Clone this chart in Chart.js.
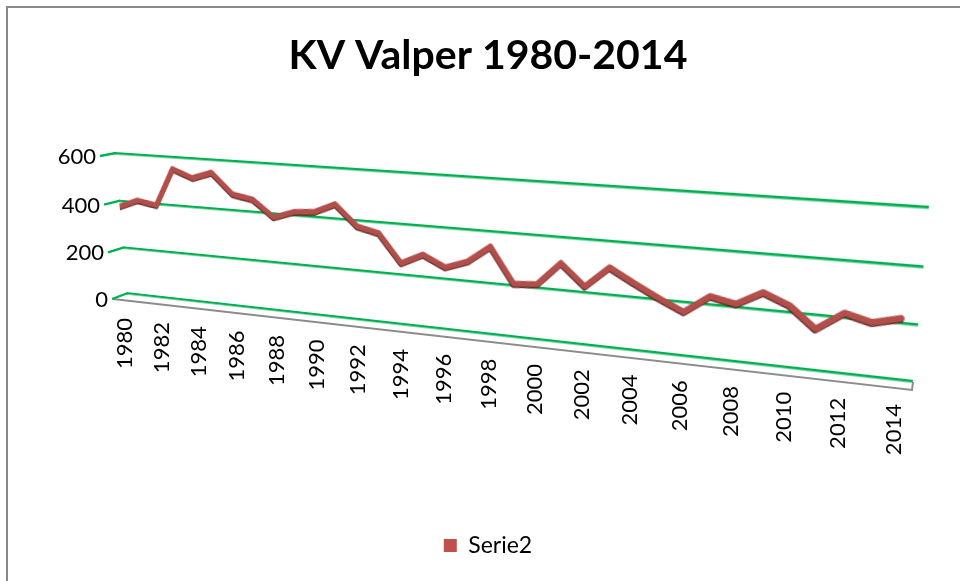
<!DOCTYPE html>
<html><head><meta charset="utf-8">
<script src="https://cdn.jsdelivr.net/npm/chart.js@4.4.1/dist/chart.umd.min.js"></script>
<style>
html,body{margin:0;padding:0;background:#fff;overflow:hidden}
#wrap{position:relative;width:960px;height:581px;overflow:hidden;background:#fff}
#frame{position:absolute;left:6px;top:6px;width:1000px;height:1000px;border:2px solid #898989;box-sizing:border-box}
#plot{position:absolute;left:0;top:0;transform-origin:0 0}
#main{position:absolute;left:0;top:0}
</style></head><body>
<div id="wrap"><div id="frame"></div><canvas id="plot" width="860" height="190"></canvas><canvas id="main" width="960" height="581"></canvas></div>
<script>
// ---- data ----
const titleText = 'KV Valper 1980-2014';
const seriesName = 'Serie2';
const years = [1980,1981,1982,1983,1984,1985,1986,1987,1988,1989,1990,1991,1992,1993,1994,1995,1996,1997,1998,1999,2000,2001,2002,2003,2004,2005,2006,2007,2008,2009,2010,2011,2012,2013,2014];
const values = [375,408,394,551,519,547,465,450,384,413,420,457,376,356,245,287,245,276,341,206,213,302,222,302,252,205,163,230,211,262,224,149,216,192,216];
const yTicks = [0,200,400,600];
const xTickLabels = ['1980','1982','1984','1986','1988','1990','1992','1994','1996','1998','2000','2002','2004','2006','2008','2010','2012','2014'];

// ---- layout (perspective wall corners on screen: TL, TR, BR, BL) ----
const wallQuad = [[115,153],[929,207],[913,381],[127,293]];
const GREEN = '#00B050';

function homography(src,dst){
  const A=[],B=[];
  for(let i=0;i<4;i++){const [x,y]=src[i],[X,Y]=dst[i];
    A.push([x,y,1,0,0,0,-x*X,-y*X]);B.push(X);
    A.push([0,0,0,x,y,1,-x*Y,-y*Y]);B.push(Y);}
  const n=8;
  for(let c=0;c<n;c++){
    let p=c;for(let r=c+1;r<n;r++) if(Math.abs(A[r][c])>Math.abs(A[p][c])) p=r;
    [A[c],A[p]]=[A[p],A[c]];[B[c],B[p]]=[B[p],B[c]];
    for(let r=0;r<n;r++){ if(r===c) continue; const f=A[r][c]/A[c][c];
      for(let k=c;k<n;k++) A[r][k]-=f*A[c][k]; B[r]-=f*B[c]; }
  }
  return B.map((b,i)=>b/A[i][i]);
}

const shade = {
  id:'shade',
  beforeDatasetsDraw(chart){const c=chart.ctx;c.save();c.shadowColor='rgba(95,32,30,0.9)';c.shadowOffsetX=-0.5;c.shadowOffsetY=1.5;c.shadowBlur=0;},
  afterDatasetsDraw(chart){chart.ctx.restore();}
};

const plot = new Chart(document.getElementById('plot'), {
  type:'line',
  data:{datasets:[{label:seriesName,data:years.map((y,i)=>({x:y,y:values[i]})),
    borderColor:'#B24F4B',borderWidth:5.5,pointRadius:0,tension:0,fill:false,
    borderJoinStyle:'round',borderCapStyle:'round'}]},
  options:{responsive:false,animation:false,devicePixelRatio:1,events:[],
    layout:{padding:{left:30,right:30,top:20,bottom:20}},
    plugins:{legend:{display:false},title:{display:false},tooltip:{enabled:false}},
    scales:{
      x:{type:'linear',min:1980,max:2014.6,display:false},
      y:{min:0,max:600,afterBuildTicks:s=>{s.ticks=yTicks.map(v=>({value:v}));},
         ticks:{display:false},grid:{color:GREEN,lineWidth:2.4,drawTicks:false},border:{display:false}}
    }},
  plugins:[shade]
});

const ca = plot.chartArea;
const h = homography([[ca.left,ca.top],[ca.right,ca.top],[ca.right,ca.bottom],[ca.left,ca.bottom]], wallQuad);
const [ha,hb,hc,hd,he,hf,hg,hh] = h;
document.getElementById('plot').style.transform =
  `matrix3d(${ha},${hd},0,${hg},${hb},${he},0,${hh},0,0,1,0,${hc},${hf},0,1)`;
function P(x,y){const w=hg*x+hh*y+1;return [(ha*x+hb*y+hc)/w,(hd*x+he*y+hf)/w];}

const decor = {
  id:'decor',
  afterDraw(chart){
    const ctx=chart.ctx, a=plot.chartArea, xs=plot.scales.x, ys=plot.scales.y;
    ctx.save();
    // floor front edge
    const bl=P(a.left,a.bottom), br=P(a.right,a.bottom);
    ctx.strokeStyle='#8C8C8C'; ctx.lineWidth=2;
    ctx.beginPath(); ctx.moveTo(bl[0]-14,bl[1]+6); ctx.lineTo(br[0]-1,br[1]+9); ctx.lineTo(br[0],br[1]+1); ctx.stroke();
    // side wall gridline segments + y labels
    ctx.fillStyle='#000'; ctx.font='22px Lato'; ctx.textAlign='right'; ctx.textBaseline='middle';
    yTicks.forEach(v=>{
      const p=P(a.left, ys.getPixelForValue(v)); const dy=3+3*(1-v/600);
      ctx.strokeStyle=GREEN; ctx.lineWidth=2.4;
      ctx.beginPath(); ctx.moveTo(p[0]+1,p[1]); ctx.lineTo(p[0]-15,p[1]+dy); ctx.stroke();
      ctx.fillText(String(v), p[0]-19, p[1]+dy+1);
    });
    // x labels
    xTickLabels.forEach(t=>{
      const p=P(xs.getPixelForValue(+t), a.bottom);
      ctx.save(); ctx.translate(p[0]-2,p[1]+25); ctx.rotate(-Math.PI/2);
      ctx.textAlign='right'; ctx.textBaseline='middle'; ctx.fillText(t,0,0); ctx.restore();
    });
    ctx.restore();
  }
};

const main = new Chart(document.getElementById('main'), {
  type:'line',
  data:{labels:years.map(String),datasets:[{label:seriesName,data:values,backgroundColor:'#C0504D',
    borderColor:'#C0504D',borderWidth:0,showLine:false,pointRadius:0}]},
  options:{responsive:false,animation:false,devicePixelRatio:1,events:[],
    layout:{padding:{left:16,right:0,top:0,bottom:14}},
    scales:{x:{display:false},y:{display:false}},
    plugins:{
      title:{display:true,text:titleText,color:'#000',font:{family:'Lato',size:41,weight:'bold'},padding:{top:31,bottom:10}},
      legend:{position:'bottom',labels:{color:'#000',font:{family:'Lato',size:23},boxWidth:13,boxHeight:13,padding:10}},
      tooltip:{enabled:false}}},
  plugins:[decor]
});
</script>
</body></html>
